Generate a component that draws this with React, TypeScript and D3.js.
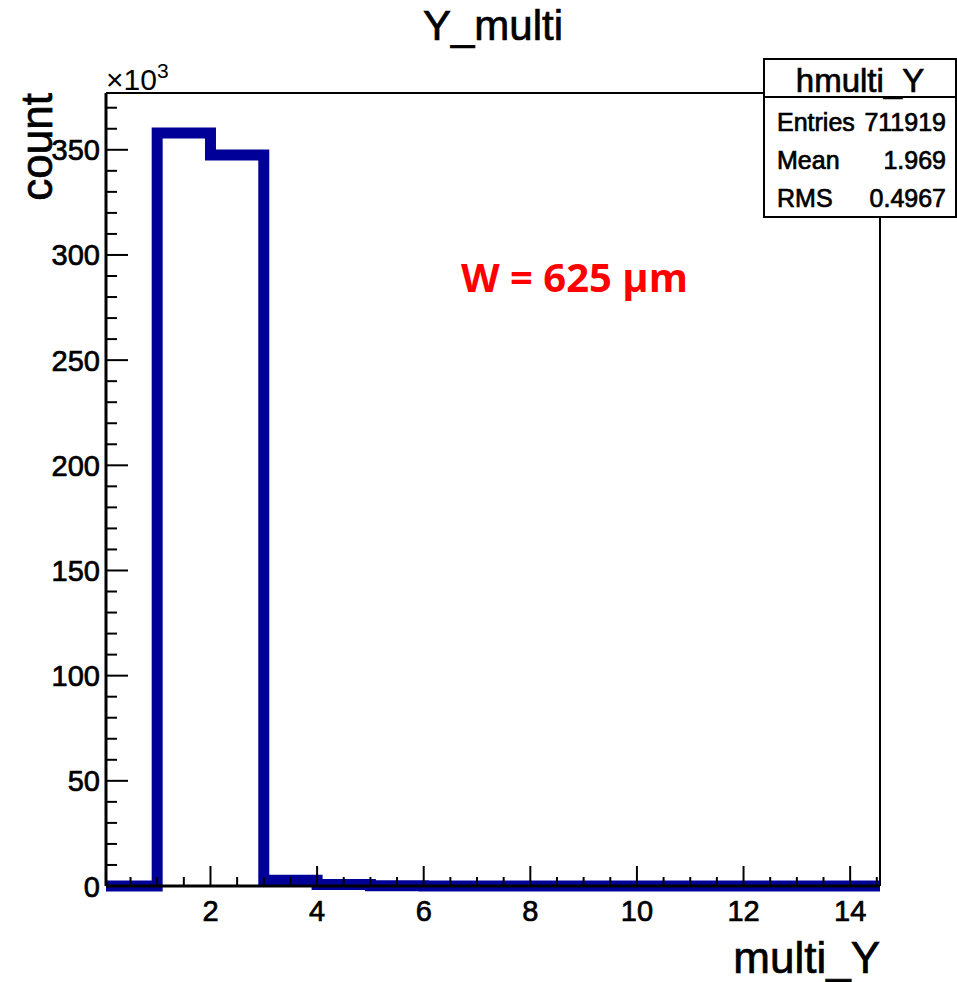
import * as d3 from "d3";

// bin low edges (width 1) and contents, in units of 10^3 counts
const binEdges = [0, 1, 2, 3, 4, 5, 6, 7, 8, 9, 10, 11, 12, 13, 14, 15];
const binCounts = [0, 358, 347.5, 2.7, 0.7, 0.1, 0, 0, 0, 0, 0, 0, 0, 0, 0];

const xTicks = [2, 4, 6, 8, 10, 12, 14];
const yTicks = [0, 50, 100, 150, 200, 250, 300, 350];

const statLabels = ["Entries", "Mean", "RMS"];
const statValues = ["711919", "1.969", "0.4967"];

const W = 957;
const H = 982;
const frame = { left: 106, right: 880, top: 93, bottom: 886 };
const FONT = "'Liberation Sans', Arial, Helvetica, sans-serif";

// ROOT's raster text looks a bit heavier than plain svg text
const heavy = { stroke: "#000", strokeWidth: 0.7 };

const App = () => {
  const xMin = 0.04;
  const xMax = 14.56;
  const x = d3.scaleLinear().domain([xMin, xMax]).range([frame.left, frame.right]);
  const y = d3.scaleLinear().domain([0, 377]).range([frame.bottom, frame.top]);

  // step outline of the histogram
  const pts = binCounts.map((c, i) => ({ x: Math.max(binEdges[i], xMin), c }));
  pts.push({ x: Math.min(binEdges[binEdges.length - 1], xMax), c: binCounts[binCounts.length - 1] });
  const line = d3
    .line<{ x: number; c: number }>()
    .x((d) => x(d.x))
    .y((d) => y(d.c))
    .curve(d3.curveStepAfter);

  const xMinor = d3.range(0.5, xMax, 0.5).filter((v) => v % 2 !== 0);
  const yMinor = d3.range(10, 377, 10).filter((v) => v % 50 !== 0);

  const box = { x: 764, y: 59, w: 192, h: 158, head: 97 };

  return (
    <svg
      width={W}
      height={H}
      style={{ position: "absolute", left: 0, top: 0, background: "#fff" }}
      fontFamily={FONT}
    >
      <rect width={W} height={H} fill="#fff" />

      {/* title */}
      <text x={493} y={40} fontSize={42} textAnchor="middle" {...heavy}>
        Y_multi
      </text>

      {/* histogram */}
      <path d={line(pts) || ""} fill="none" stroke="#000099" strokeWidth={11} />

      {/* frame */}
      <line x1={frame.left} x2={frame.right} y1={frame.top} y2={frame.top} stroke="#000" strokeWidth={2} />
      <line x1={frame.right} x2={frame.right} y1={frame.top} y2={frame.bottom} stroke="#000" strokeWidth={2} />
      <line x1={frame.left} x2={frame.left} y1={frame.top} y2={frame.bottom} stroke="#000" strokeWidth={3} />
      <line x1={frame.left} x2={frame.right} y1={frame.bottom} y2={frame.bottom} stroke="#000" strokeWidth={3} />

      {/* x axis ticks */}
      {xMinor.map((v) => (
        <line key={"xm" + v} x1={x(v)} x2={x(v)} y1={frame.bottom} y2={frame.bottom - 9} stroke="#000" strokeWidth={2} />
      ))}
      {xTicks.map((v) => (
        <g key={"x" + v}>
          <line x1={x(v)} x2={x(v)} y1={frame.bottom} y2={frame.bottom - 20} stroke="#000" strokeWidth={2} />
          <text x={x(v)} y={921} fontSize={29} textAnchor="middle" {...heavy}>
            {v}
          </text>
        </g>
      ))}

      {/* y axis ticks */}
      {yMinor.map((v) => (
        <line key={"ym" + v} x1={frame.left} x2={frame.left + 11} y1={y(v)} y2={y(v)} stroke="#000" strokeWidth={2} />
      ))}
      {yTicks.map((v) => (
        <g key={"y" + v}>
          <line x1={frame.left} x2={frame.left + 22} y1={y(v)} y2={y(v)} stroke="#000" strokeWidth={2} />
          <text x={100} y={y(v) + 10.5} fontSize={29} textAnchor="end" {...heavy}>
            {v}
          </text>
        </g>
      ))}

      {/* exponent */}
      <text x={106} y={90} fontSize={30}>
        ×10
        <tspan fontSize={21} dy={-12}>
          3
        </tspan>
      </text>

      {/* axis titles */}
      <text transform="translate(52,93) rotate(-90)" fontSize={44} textAnchor="end" {...heavy}>
        count
      </text>
      <text x={880} y={973} fontSize={44} textAnchor="end" {...heavy}>
        multi_Y
      </text>

      {/* annotation */}
      <text x={461} y={292} fontSize={40} fontWeight="bold" fill="#ff0000" fontFamily="'Open Sans', sans-serif">
        W = 625 μm
      </text>

      {/* stats box */}
      <rect x={box.x} y={box.y} width={box.w} height={box.h} fill="#fff" stroke="#000" strokeWidth={2} />
      <line x1={box.x} x2={box.x + box.w} y1={box.head} y2={box.head} stroke="#000" strokeWidth={2} />
      <text x={box.x + box.w / 2} y={92} fontSize={33} textAnchor="middle" {...heavy}>
        hmulti_Y
      </text>
      {statLabels.map((lab, i) => (
        <g key={lab}>
          <text x={777} y={131 + i * 38} fontSize={25} {...heavy}>
            {lab}
          </text>
          <text x={946} y={131 + i * 38} fontSize={25} textAnchor="end" {...heavy}>
            {statValues[i]}
          </text>
        </g>
      ))}
    </svg>
  );
};

export default App;
